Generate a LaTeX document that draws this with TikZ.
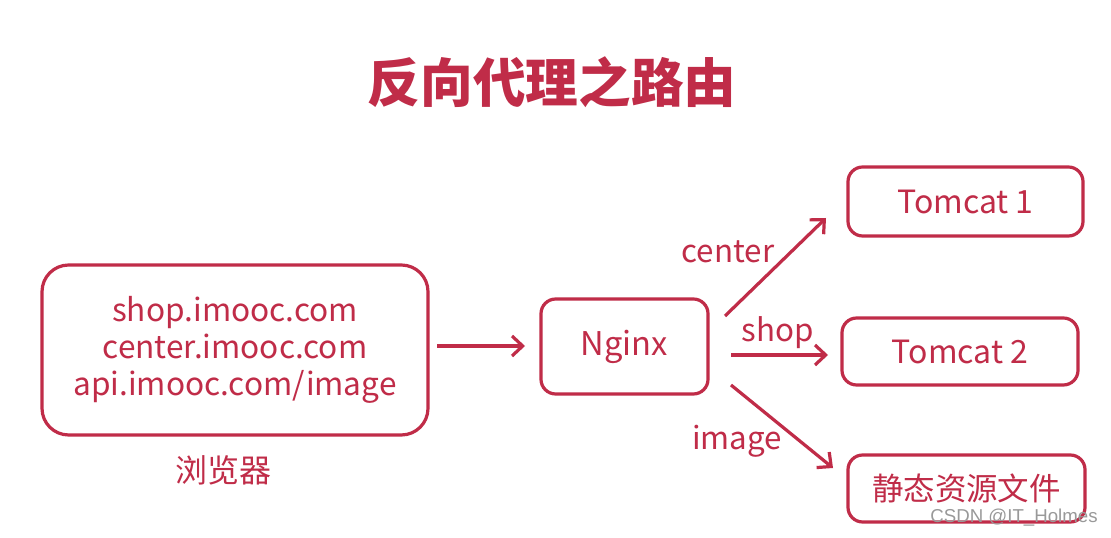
\documentclass[tikz,border=0pt]{standalone}
\usepackage{fontspec}
\setmainfont{Noto Sans CJK SC}
\newfontfamily\cjk{Noto Sans CJK SC}
\newfontfamily\wm{Liberation Sans}
\usetikzlibrary{arrows.meta}
\definecolor{crim}{RGB}{192,44,72}
\begin{document}
\begin{tikzpicture}[x=0.75pt,y=-0.75pt,
  box/.style={draw=crim,line width=2.4pt,rounded corners=11pt,text=crim,align=center,inner sep=0pt},
  arr/.style={draw=crim,line width=2.4pt,-{Straight Barb[length=8pt,width=15pt,line width=2.4pt]}},
  lbl/.style={text=crim,font=\fontsize{23.5}{27}\selectfont,inner sep=0pt}]
\useasboundingbox[fill=white] (0,0) rectangle (1111,538);
\node[text=crim,font=\cjk\bfseries\fontsize{39.5}{44}\selectfont] (title) at (552,82) {反向代理之路由};
\node[box,rounded corners=20pt,minimum width=386*0.75pt,minimum height=170*0.75pt,font=\fontsize{23.7}{27.5}\selectfont] (browser) at (235,350) {shop.imooc.com\\center.imooc.com\\api.imooc.com/image};
\node[lbl,font=\cjk\fontsize{24}{28}\selectfont] (blabel) at (223,470) {浏览器};
\node[box,minimum width=167*0.75pt,minimum height=95*0.75pt,font=\fontsize{24.5}{28}\selectfont] (nginx) at (624.5,346.5) {Nginx};
\node[box,minimum width=235*0.75pt,minimum height=69*0.75pt,font=\fontsize{24}{28}\selectfont] (t1) at (965.5,201.5) {Tomcat 1};
\node[box,minimum width=236*0.75pt,minimum height=67*0.75pt,font=\fontsize{24}{28}\selectfont] (t2) at (960,351.5) {Tomcat 2};
\node[box,minimum width=237*0.75pt,minimum height=67*0.75pt,font=\cjk\fontsize{23.6}{28}\selectfont] (st) at (966.5,488.5) {静态资源文件};
\coordinate (a0) at (437,346);
\coordinate (a1) at (525,346);
\coordinate (c0) at (725,316);
\coordinate (c1) at (826,218);
\coordinate (s0) at (731,355);
\coordinate (s1) at (828,355);
\coordinate (i0) at (731,385);
\coordinate (i1) at (833,468);
\draw[arr] (a0) -- (a1);
\draw[arr] (c0) -- (c1);
\draw[arr] (s0) -- (s1);
\draw[arr] (i0) -- (i1);
\node[lbl] (lc) at (728,252) {center};
\node[lbl] (ls) at (778,333) {shop};
\node[lbl] (li) at (737,441) {image};
\node[text=gray!80,font=\wm\fontsize{14}{16}\selectfont,inner sep=0pt] (wmk) at (1014,518) {CSDN @IT\_Holmes};
\end{tikzpicture}
\end{document}
